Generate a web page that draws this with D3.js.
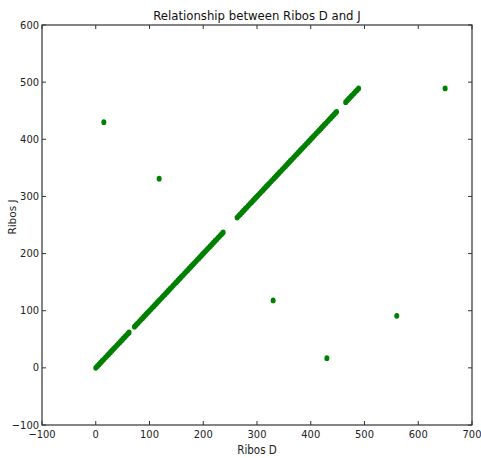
<!DOCTYPE html>
<html>
<head>
<meta charset="utf-8">
<script src="https://cdn.jsdelivr.net/npm/d3@7"></script>
<style>
  html, body { margin: 0; padding: 0; background: #fff; }
  svg { display: block; }
  .cond { font-family: "DejaVu Sans Condensed", "DejaVu Sans", sans-serif; font-stretch: condensed; }
</style>
</head>
<body>
<svg id="chart" width="481" height="458"></svg>
<script>
// ---- data ----
const title = "Relationship between Ribos D and J";
const xLabel = "Ribos D";
const yLabel = "Ribos J";
const xTicks = [-100, 0, 100, 200, 300, 400, 500, 600, 700];
const yTicks = [-100, 0, 100, 200, 300, 400, 500, 600];
// points lying on the diagonal (Ribos D == Ribos J)
const diagonalValues = [
  0,3,6,9,12,15,18,21,24,27,30,33,36,39,42,45,48,51,54,57,60,62,
  72,75,78,81,84,87,90,93,96,99,102,105,108,111,114,117,120,123,126,129,132,135,138,141,144,147,150,153,156,159,162,165,168,171,174,177,180,183,186,189,192,195,198,201,204,207,210,213,216,219,222,225,228,231,234,237,
  263,266,269,272,275,278,281,284,287,290,293,296,299,302,305,308,311,314,317,320,323,326,329,332,335,338,341,344,347,350,353,356,359,362,365,368,371,374,377,380,383,386,389,392,395,398,401,404,407,410,413,416,419,422,425,428,431,434,437,440,443,446,448,
  465,468,471,474,477,480,483,486,489
];
// off-diagonal points
const outlierD = [15, 118, 330, 430, 560, 650];
const outlierJ = [430, 331, 118, 17, 91, 489];

const ribosD = diagonalValues.concat(outlierD);
const ribosJ = diagonalValues.concat(outlierJ);
const points = ribosD.map((d, i) => ({ d: d, j: ribosJ[i] }));

// ---- layout ----
const svg = d3.select("#chart");
const mLeft = 42, mRight = 472, mTop = 25, mBottom = 425;
const x = d3.scaleLinear().domain([-100, 700]).range([mLeft, mRight]);
const y = d3.scaleLinear().domain([-100, 600]).range([mBottom, mTop]);
const tickLen = 4;
const axisColor = "#333";

// points
svg.append("g")
  .selectAll("ellipse")
  .data(points)
  .join("ellipse")
  .attr("cx", p => x(p.d))
  .attr("cy", p => y(p.j))
  .attr("rx", 2.5)
  .attr("ry", 2.9)
  .attr("fill", "#008000");

// frame
svg.append("rect")
  .attr("x", mLeft).attr("y", mTop)
  .attr("width", mRight - mLeft).attr("height", mBottom - mTop)
  .attr("fill", "none").attr("stroke", axisColor).attr("stroke-width", 1.2);

// inward ticks on all four sides
const tg = svg.append("g").attr("stroke", axisColor).attr("stroke-width", 1);
xTicks.forEach(t => {
  tg.append("line").attr("x1", x(t)).attr("x2", x(t)).attr("y1", mBottom).attr("y2", mBottom - tickLen);
  tg.append("line").attr("x1", x(t)).attr("x2", x(t)).attr("y1", mTop).attr("y2", mTop + tickLen);
});
yTicks.forEach(t => {
  tg.append("line").attr("y1", y(t)).attr("y2", y(t)).attr("x1", mLeft).attr("x2", mLeft + tickLen);
  tg.append("line").attr("y1", y(t)).attr("y2", y(t)).attr("x1", mRight).attr("x2", mRight - tickLen);
});

// tick labels
const xt = svg.append("g").attr("class", "cond").attr("font-size", 11).attr("fill", "#222");
xTicks.forEach(t => {
  xt.append("text").attr("x", x(t)).attr("y", mBottom + 12.5)
    .attr("text-anchor", "middle").text(d3.format("d")(t).replace("-", "\u2212"));
});
const yt = svg.append("g").attr("class", "cond").attr("font-size", 11).attr("fill", "#222");
yTicks.forEach(t => {
  yt.append("text").attr("x", mLeft - 3).attr("y", y(t) + 3.5)
    .attr("text-anchor", "end").text(d3.format("d")(t).replace("-", "\u2212"));
});

// title and labels
svg.append("text").attr("class", "cond")
  .attr("x", (mLeft + mRight) / 2).attr("y", 20)
  .attr("text-anchor", "middle").attr("font-size", 13).attr("fill", "#111")
  .text(title);
svg.append("text").attr("class", "cond")
  .attr("x", (mLeft + mRight) / 2).attr("y", 454)
  .attr("text-anchor", "middle").attr("font-size", 11.5).attr("fill", "#222")
  .text(xLabel);
svg.append("text")
  .attr("transform", "translate(16," + 217 + ") rotate(-90)")
  .attr("text-anchor", "middle").attr("font-size", 10.5)
  .attr("font-family", "DejaVu Sans, sans-serif").attr("fill", "#222")
  .text(yLabel);
</script>
</body>
</html>
